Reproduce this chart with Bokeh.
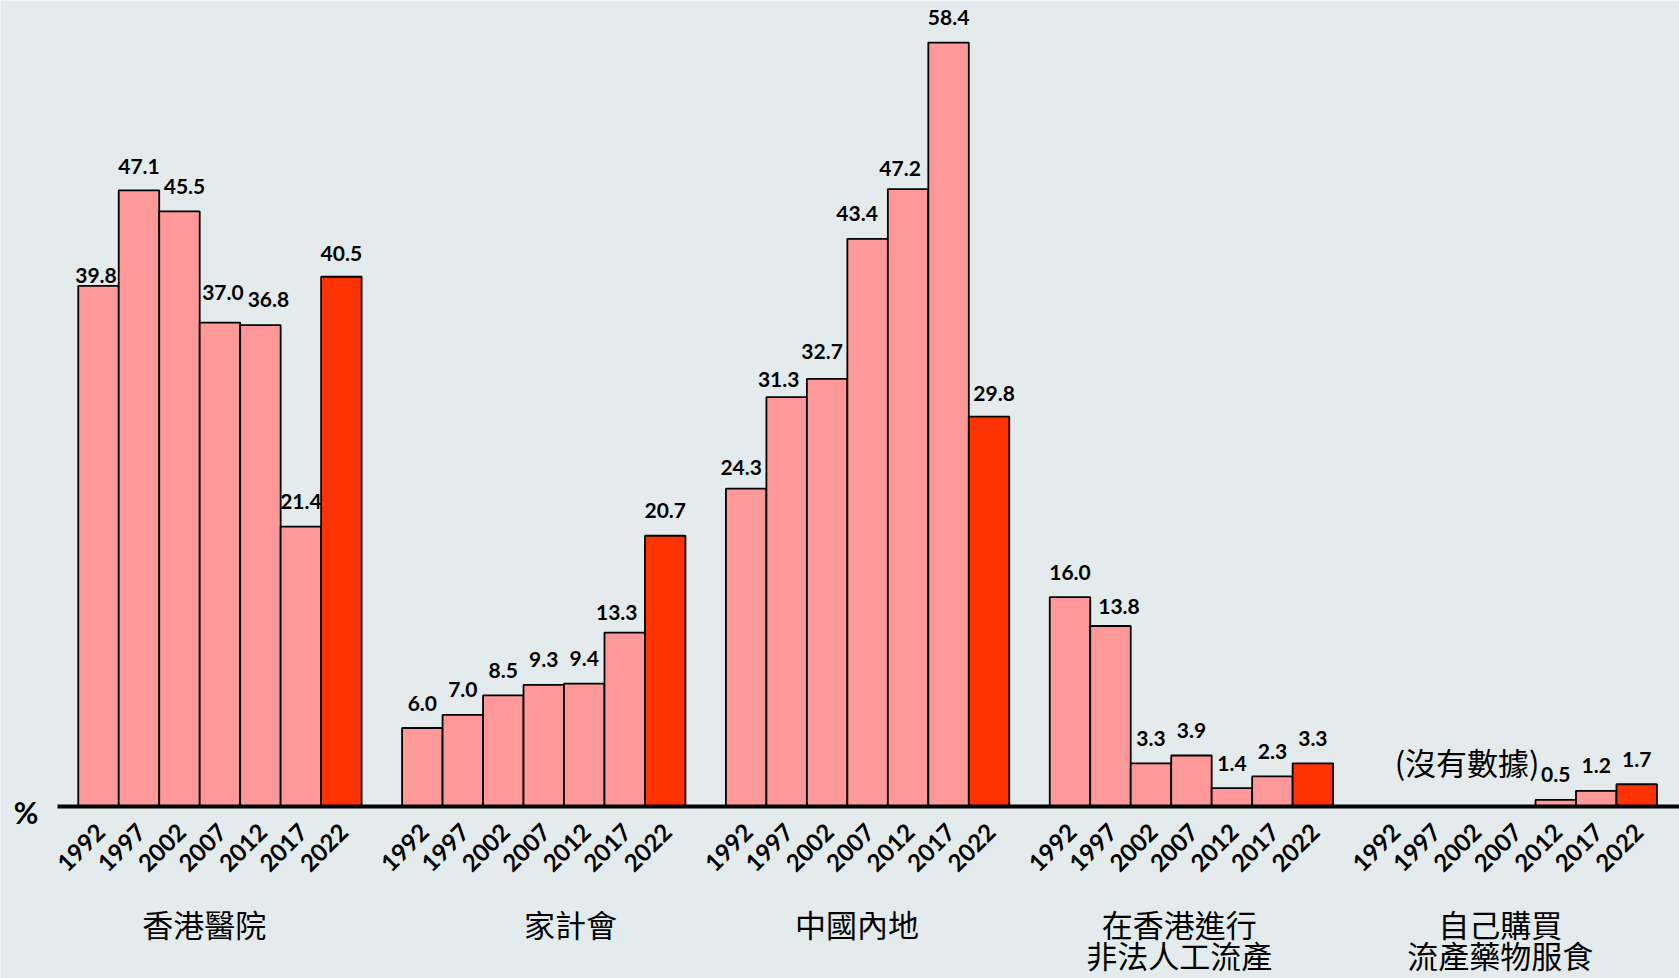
import math
from bokeh.plotting import figure
from bokeh.models import ColumnDataSource, Range1d
from bokeh.core.properties import value
from bokeh.embed import file_html
from bokeh.resources import INLINE

# ---------------- data ----------------
years = ["1992", "1997", "2002", "2007", "2012", "2017", "2022"]
categories = ["香港醫院", "家計會", "中國內地", "在香港進行\n非法人工流產", "自己購買\n流產藥物服食"]
hk_hospital = [39.8, 47.1, 45.5, 37.0, 36.8, 21.4, 40.5]
family_planning = [6.0, 7.0, 8.5, 9.3, 9.4, 13.3, 20.7]
mainland = [24.3, 31.3, 32.7, 43.4, 47.2, 58.4, 29.8]
illegal_hk = [16.0, 13.8, 3.3, 3.9, 1.4, 2.3, 3.3]
self_medication = [None, None, None, None, 0.5, 1.2, 1.7]
no_data_note = "(沒有數據)"
unit_label = "%"
series = [hk_hospital, family_planning, mainland, illegal_hk, self_medication]

# ---------------- style / layout ----------------
BG = "#E4EBEC"
PINK = "#FF9999"
RED = "#FF3300"
LATIN = "Lato"
CJK = "Noto Sans CJK TC"
SLOTS = len(years) + 1                               # 7 bars + 1 gap per group
label_shift = [-0.39, 0.66, -0.26, -0.30, -0.37]     # category label offsets (slots)
AXIS_START = -1.013                                  # where the base line begins (slots)
X_RANGE = (-2.421, 39.057)
Y_RANGE = (-13.15, 61.62)
DEFAULT_NUDGE = (0, -25)                             # value label offset (px)
label_nudge = {                                      # (group, year index) -> (dx, dy) px
    (0, 0): (-2.5, -10.5), (0, 1): (0, -24), (0, 2): (5, -25), (0, 3): (3, -30),
    (0, 4): (8, -26), (0, 6): (0, -23), (1, 5): (-8, -20),
    (2, 0): (-5, -21), (2, 1): (-8, -18), (2, 2): (-5, -27), (2, 3): (-10.5, -25),
    (2, 4): (-8, -21), (2, 6): (5, -23), (3, 1): (8.5, -19),
}

bx, btop, bcol, blab, bdx, bdy = [], [], [], [], [], []
tx, ttext = [], []
for g, vals in enumerate(series):
    for i, v in enumerate(vals):
        s = g * SLOTS + i
        tx.append(s)
        ttext.append(years[i])
        if v is None:
            continue
        bx.append(s)
        btop.append(v)
        bcol.append(RED if i == len(years) - 1 else PINK)
        blab.append(f"{v:.1f}")
        dx, dy = label_nudge.get((g, i), DEFAULT_NUDGE)
        bdx.append(dx)
        bdy.append(dy)

bars = ColumnDataSource(dict(x=bx, top=btop, color=bcol, label=blab, dx=bdx, dy=bdy))
ticks = ColumnDataSource(dict(x=tx, y=[0] * len(tx), text=ttext))

cx, cy, ctext, coff = [], [], [], []
line_offsets = [117.5, 148]
for g, name in enumerate(categories):
    for k, line in enumerate(name.split("\n")):
        cx.append(g * SLOTS + (len(years) - 1) / 2 + label_shift[g])
        cy.append(0)
        ctext.append(line)
        coff.append(line_offsets[k])
cats = ColumnDataSource(dict(x=cx, y=cy, text=ctext, off=coff))

p = figure(width=1679, height=978, output_backend="svg", toolbar_location=None,
           x_range=Range1d(*X_RANGE), y_range=Range1d(*Y_RANGE),
           x_axis_type=None, y_axis_type=None, min_border=0,
           background_fill_color=BG, border_fill_color=BG, outline_line_color=None)

p.vbar(x="x", top="top", bottom=0, width=1.0, source=bars, fill_color="color",
       line_color="black", line_width=1.8)

# base line (x axis)
p.segment(x0=[AXIS_START], y0=[0], x1=[X_RANGE[1]], y1=[0],
          line_color="black", line_width=4)

# value labels
p.text(x="x", y="top", text="label", source=bars, text_font=value(LATIN),
       text_font_style="bold", text_font_size="21px", text_align="center",
       text_baseline="middle", x_offset="dx", y_offset="dy", text_color="black")

# year tick labels
p.text(x="x", y="y", text="text", source=ticks, text_font=value(LATIN),
       text_font_style="bold", text_font_size="24px", text_align="right",
       text_baseline="middle", angle=math.pi / 4, x_offset=2, y_offset=21,
       text_color="black")

# unit label
p.text(x=[-1.79], y=[0], text=[unit_label], text_font=value(LATIN),
       text_font_style="bold", text_font_size="30px", text_align="center",
       text_baseline="middle", y_offset=5.5, text_color="black")

# category labels
p.text(x="x", y="y", text="text", source=cats, text_font=value(CJK),
       text_font_size="31px", text_align="center", text_baseline="middle",
       y_offset="off", text_color="black")

# no-data note over the empty bars of the last group
p.text(x=[4 * SLOTS + 1.81], y=[3.14], text=[no_data_note], text_font=value(CJK),
       text_font_size="31px", text_align="center", text_baseline="middle",
       y_offset=-4, text_color="black")

open("out.html", "w").write(file_html(p, INLINE))
